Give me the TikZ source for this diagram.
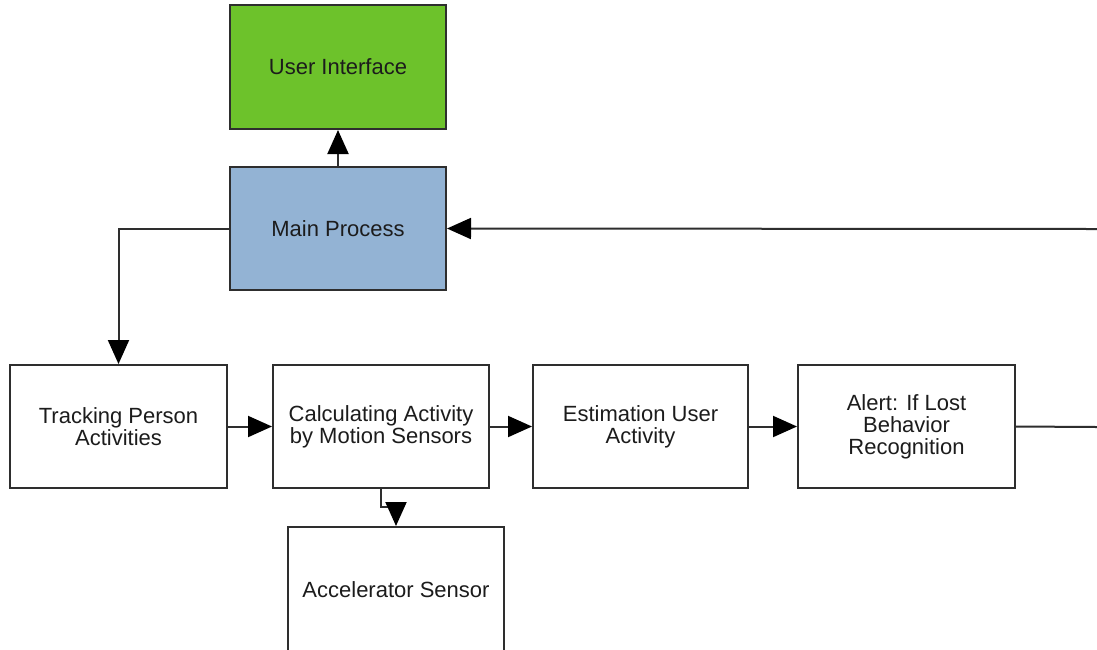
\documentclass[tikz,border=0pt]{standalone}
\usepackage{fontspec}
\setmainfont{Liberation Sans}
\usetikzlibrary{arrows.meta}
\definecolor{uigreen}{HTML}{6DC22B}
\definecolor{mpblue}{HTML}{93B3D4}
\definecolor{edge}{HTML}{2E2E2E}
\definecolor{ink}{HTML}{1C1C1C}
\begin{document}
\begin{tikzpicture}[x=1pt,y=-1pt,
  block/.style={draw=edge, line width=2pt, fill=white, text=ink,
    align=center, inner sep=0pt, font=\fontsize{22}{22}\selectfont},
  arr/.style={draw=edge, line width=2pt, -{Triangle[length=24pt,width=21pt,fill=black,color=black]}},
  wire/.style={draw=edge, line width=2pt}]
  \useasboundingbox[fill=white] (0,0) rectangle (1097,649);

  % top row: interface and main process
  \node[block, fill=uigreen, minimum width=216pt, minimum height=124pt] (ui) at (338,67) {User Interface};
  \node[block, fill=mpblue, minimum width=216pt, minimum height=123pt] (mp) at (338,228.5) {Main Process};

  % processing chain
  \node[block, minimum width=217pt, minimum height=123pt] (tr) at (118.5,426.5) {Tracking Person\\Activities};
  \node[block, minimum width=216pt, minimum height=123pt] (ca) at (381,426.5) {Calculating Activity\\by Motion Sensors};
  \node[block, minimum width=215pt, minimum height=123pt] (es) at (640.5,426.5) {Estimation User\\Activity};
  \node[block, minimum width=217pt, minimum height=123pt] (al) at (906.5,426.5) {Alert: If Lost\\Behavior\\Recognition};

  % sensor below the calculation step
  \node[block, minimum width=216pt, minimum height=126pt] (ac) at (396,590) {Accelerator Sensor};

  % loose ends at the right border
  \coordinate (rin) at (1097,229);
  \coordinate (rout) at (1097,427);

  % connectors
  \draw[arr] (mp.north) -- (ui.south);
  \draw[arr] (mp.west) -| (tr.north);
  \draw[arr] (rin) -- (mp.east);
  \draw[arr] (tr.east) -- (ca.west);
  \draw[arr] (ca.east) -- (es.west);
  \draw[arr] (es.east) -- (al.west);
  \draw[wire] (al.east) -- (rout);
  \draw[arr] (ca.south) -- ++(0,18) -| (ac.north);
\end{tikzpicture}
\end{document}
